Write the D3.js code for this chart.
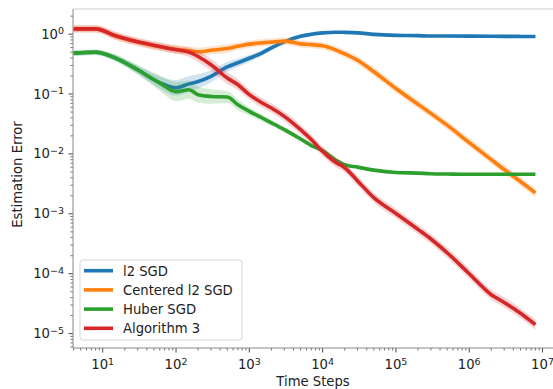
<!DOCTYPE html>
<html>
<head>
<meta charset="utf-8">
<script src="https://cdn.jsdelivr.net/npm/d3@7"></script>
<style>
  body { margin: 0; background: #fff; }
  svg { font-family: 'DejaVu Sans', sans-serif; }
</style>
</head>
<body>
<div id="graphContainer"></div>
<script>
// time steps shared by every series
const steps = [4, 8, 15, 30, 60, 100, 150, 200, 300, 500, 700, 1000, 1500, 2000, 3000, 5000, 7000,
  1e4, 1.5e4, 2e4, 3e4, 5e4, 1e5, 2e5, 3e5, 5e5, 1e6, 2e6, 3e6, 5e6, 8e6];

// mean estimation error as log10 values
const l2Sgd = [-0.317, -0.303, -0.40, -0.595, -0.81, -0.895, -0.83, -0.79, -0.703, -0.545, -0.478, -0.403,
  -0.312, -0.228, -0.128, -0.037, -0.003, 0.022, 0.033, 0.03, 0.022, -0.003, -0.02, -0.025, -0.032,
  -0.032, -0.033, -0.035, -0.037, -0.038, -0.04];
const centeredL2Sgd = [0.088, 0.088, -0.03, -0.13, -0.21, -0.253, -0.278, -0.295, -0.27, -0.24, -0.203, -0.167,
  -0.145, -0.133, -0.117, -0.162, -0.175, -0.195, -0.262, -0.328, -0.437, -0.628, -0.907, -1.17, -1.323,
  -1.52, -1.81, -2.095, -2.26, -2.46, -2.65];
const huberSgd = [-0.317, -0.303, -0.40, -0.595, -0.817, -0.96, -0.928, -1.01, -1.04, -1.05, -1.18, -1.29,
  -1.40, -1.48, -1.595, -1.75, -1.86, -1.945, -2.10, -2.18, -2.22, -2.27, -2.31, -2.32, -2.33,
  -2.335, -2.34, -2.34, -2.34, -2.34, -2.34];
const algorithm3 = [0.088, 0.088, -0.028, -0.128, -0.207, -0.262, -0.30, -0.373, -0.512, -0.733, -0.845, -1.01,
  -1.15, -1.233, -1.373, -1.595, -1.76, -1.957, -2.14, -2.23, -2.45, -2.73, -2.995, -3.26, -3.42,
  -3.65, -4.0, -4.35, -4.48, -4.66, -4.85];

// half width of the shaded band (log10 units)
const l2Band = [0.04, 0.04, 0.05, 0.07, 0.1, 0.13, 0.13, 0.12, 0.1, 0.08, 0.07, 0.06,
  0.05, 0.04, 0.035, 0.03, 0.025, 0.02, 0.02, 0.02, 0.015, 0.015, 0.015, 0.015, 0.015,
  0.015, 0.015, 0.015, 0.015, 0.015, 0.015];
const centeredBand = [0.06, 0.06, 0.06, 0.06, 0.06, 0.07, 0.07, 0.07, 0.07, 0.07, 0.06, 0.06,
  0.06, 0.06, 0.06, 0.06, 0.06, 0.06, 0.06, 0.065, 0.07, 0.07, 0.07, 0.07, 0.07,
  0.07, 0.07, 0.07, 0.07, 0.07, 0.07];
const huberBand = [0.05, 0.05, 0.06, 0.08, 0.13, 0.16, 0.15, 0.13, 0.12, 0.1, 0.09, 0.07,
  0.06, 0.05, 0.045, 0.04, 0.03, 0.025, 0.02, 0.018, 0.015, 0.015, 0.015, 0.015, 0.015,
  0.015, 0.015, 0.015, 0.015, 0.015, 0.015];
const algBand = [0.06, 0.06, 0.07, 0.07, 0.07, 0.07, 0.08, 0.09, 0.1, 0.1, 0.09, 0.08,
  0.08, 0.08, 0.08, 0.08, 0.08, 0.08, 0.08, 0.08, 0.08, 0.08, 0.08, 0.08, 0.08,
  0.085, 0.085, 0.085, 0.085, 0.085, 0.085];

const seriesNames = ['l2 SGD', 'Centered l2 SGD', 'Huber SGD', 'Algorithm 3'];
const seriesColors = ['#1f77b4', '#ff7f0e', '#2ca02c', '#d62728'];
const seriesValues = [l2Sgd, centeredL2Sgd, huberSgd, algorithm3];
const seriesBands = [l2Band, centeredBand, huberBand, algBand];

const xTicks = [1e1, 1e2, 1e3, 1e4, 1e5, 1e6, 1e7];
const yTicks = [1e-5, 1e-4, 1e-3, 1e-2, 1e-1, 1e0];

const W = 553, H = 389;
const margin = {top: 9, right: 0, bottom: 41, left: 73};
const width = W - margin.left - margin.right;
const height = H - margin.top - margin.bottom;
const fontSize = 13.2;

const svg = d3.select('#graphContainer').append('svg')
  .attr('width', W).attr('height', H);

const x = d3.scaleLog().domain([3.93, 1.39e7]).range([0, width]);
const y = d3.scaleLog().domain([5.75e-6, 2.63]).range([height, 0]);

const mainG = svg.append('g')
  .attr('transform', `translate(${margin.left},${margin.top})`);

svg.append('clipPath').attr('id', 'plotClip')
  .append('rect').attr('width', width).attr('height', height);

const plotG = mainG.append('g').attr('clip-path', 'url(#plotClip)');

// bands first, then the mean lines, in legend order
seriesValues.forEach((vals, k) => {
  const rows = steps.map((s, i) => ({s, v: vals[i], b: seriesBands[k][i]}));
  const area = d3.area()
    .x(d => x(d.s))
    .y0(d => y(Math.pow(10, d.v - d.b)))
    .y1(d => y(Math.pow(10, d.v + d.b)))
    .curve(d3.curveMonotoneX);
  plotG.append('path')
    .datum(rows)
    .attr('d', area)
    .attr('fill', seriesColors[k])
    .attr('fill-opacity', 0.2);
  const line = d3.line()
    .x(d => x(d.s))
    .y(d => y(Math.pow(10, d.v)))
    .curve(d3.curveMonotoneX);
  plotG.append('path')
    .datum(rows)
    .attr('d', line)
    .attr('fill', 'none')
    .attr('stroke', seriesColors[k])
    .attr('stroke-width', 3.6)
    .attr('stroke-linejoin', 'round');
});

// minor ticks 2..9 in every decade
function minorTicks(lo, hi) {
  const out = [];
  for (let e = Math.floor(Math.log10(lo)); e <= Math.ceil(Math.log10(hi)); e++) {
    for (let m = 2; m <= 9; m++) {
      const v = m * Math.pow(10, e);
      if (v >= lo && v <= hi) out.push(v);
    }
  }
  return out;
}

function powLabel(sel, v) {
  const e = Math.round(Math.log10(v));
  sel.text('10');
  sel.append('tspan')
    .attr('dy', '-0.45em')
    .attr('font-size', '0.72em')
    .text(e < 0 ? '\u2212' + (-e) : e);
}

// x axis
const xAxisG = mainG.append('g').attr('transform', `translate(0,${height})`);
xAxisG.selectAll('.minor').data(minorTicks(x.domain()[0], x.domain()[1])).enter()
  .append('line').attr('x1', d => x(d)).attr('x2', d => x(d))
  .attr('y1', 0).attr('y2', 2.5).attr('stroke', '#333').attr('stroke-width', 0.7);
xAxisG.selectAll('.major').data(xTicks).enter()
  .append('line').attr('x1', d => x(d)).attr('x2', d => x(d))
  .attr('y1', 0).attr('y2', 4.5).attr('stroke', '#333').attr('stroke-width', 0.9);
xAxisG.selectAll('.lab').data(xTicks).enter()
  .append('text')
  .attr('x', d => x(d)).attr('y', 21)
  .attr('text-anchor', 'middle')
  .attr('font-size', fontSize).attr('fill', '#222')
  .each(function (d) { powLabel(d3.select(this), d); });

// y axis
const yAxisG = mainG.append('g');
yAxisG.selectAll('.minor').data(minorTicks(y.domain()[0], y.domain()[1])).enter()
  .append('line').attr('y1', d => y(d)).attr('y2', d => y(d))
  .attr('x1', 0).attr('x2', -2.5).attr('stroke', '#333').attr('stroke-width', 0.7);
yAxisG.selectAll('.major').data(yTicks).enter()
  .append('line').attr('y1', d => y(d)).attr('y2', d => y(d))
  .attr('x1', 0).attr('x2', -4.5).attr('stroke', '#333').attr('stroke-width', 0.9);
yAxisG.selectAll('.lab').data(yTicks).enter()
  .append('text')
  .attr('x', -9).attr('y', d => y(d) + 4.5)
  .attr('text-anchor', 'end')
  .attr('font-size', fontSize).attr('fill', '#222')
  .each(function (d) { powLabel(d3.select(this), d); });

// spines
mainG.append('line').attr('x1', 0).attr('x2', width).attr('y1', 0).attr('y2', 0)
  .attr('stroke', '#d0d0d0').attr('stroke-width', 1.2);
mainG.append('line').attr('x1', 0).attr('x2', 0).attr('y1', 0).attr('y2', height)
  .attr('stroke', '#888').attr('stroke-width', 1);
mainG.append('line').attr('x1', 0).attr('x2', width).attr('y1', height).attr('y2', height)
  .attr('stroke', '#888').attr('stroke-width', 1);

// axis labels
svg.append('text')
  .attr('x', margin.left + width / 2).attr('y', 385.5)
  .attr('text-anchor', 'middle').attr('font-size', fontSize).attr('fill', '#222')
  .text('Time Steps');
svg.append('text')
  .attr('transform', `translate(22,${margin.top + height / 2 - 4}) rotate(-90)`)
  .attr('text-anchor', 'middle').attr('font-size', fontSize).attr('fill', '#222')
  .text('Estimation Error');

// legend
const legend = svg.append('g').attr('transform', 'translate(80,260)');
legend.append('rect')
  .attr('width', 162).attr('height', 80).attr('rx', 3)
  .attr('fill', '#fff').attr('fill-opacity', 0.85)
  .attr('stroke', '#d6d6d6').attr('stroke-width', 1);
seriesNames.forEach((name, k) => {
  const row = legend.append('g').attr('transform', `translate(0,${10.7 + k * 19.2})`);
  row.append('line').attr('x1', 4).attr('x2', 33).attr('y1', 0).attr('y2', 0)
    .attr('stroke', seriesColors[k]).attr('stroke-width', 3.6);
  row.append('text').attr('x', 43).attr('y', 4.8)
    .attr('font-size', fontSize).attr('fill', '#222').text(name);
});
</script>
</body>
</html>
